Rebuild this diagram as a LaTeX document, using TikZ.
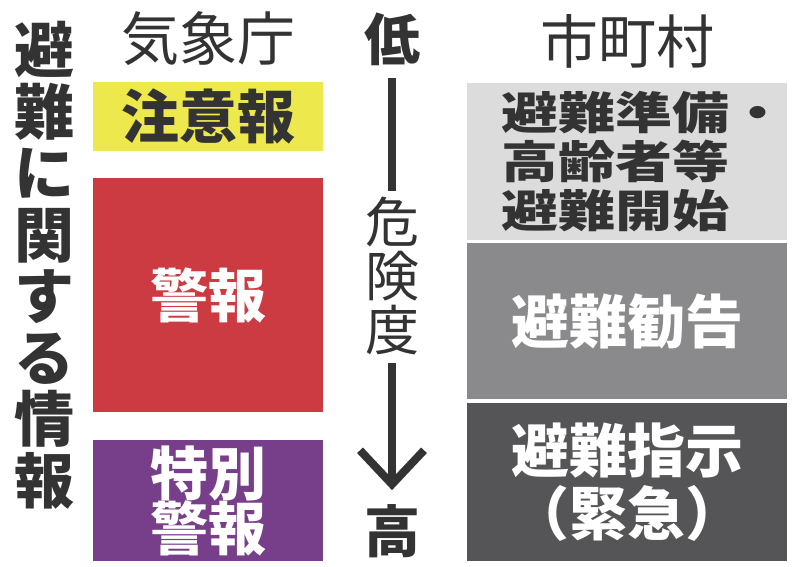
\documentclass[tikz,border=0pt]{standalone}
\usepackage{fontspec}
\usepackage{graphicx}
\newfontfamily\jp{Noto Sans CJK JP}
\usetikzlibrary{arrows.meta}

\definecolor{ink}{HTML}{333333}
\definecolor{chui}{HTML}{EDE84C}
\definecolor{keiho}{HTML}{CC3A42}
\definecolor{tokubetsu}{HTML}{773F8A}
\definecolor{junbi}{HTML}{DCDCDD}
\definecolor{kankoku}{HTML}{8A8A8C}
\definecolor{shiji}{HTML}{555557}

\newcommand{\tightlines}{\lineskiplimit=-100pt\relax}
\newcommand{\flatline}[1]{\hspace*{34pt}\scalebox{1}[0.78]{#1}}

\begin{document}
\begin{tikzpicture}[x=1pt, y=-1pt,
    lvl/.style={anchor=north west, inner sep=0, align=center,
      font={\jp\bfseries\fontsize{58}{55}\selectfont\tightlines}},
    head/.style={inner sep=0, text=ink, font={\jp\fontsize{58}{58}\selectfont}},
    ends/.style={inner sep=0, text=ink, font={\jp\bfseries\fontsize{56}{56}\selectfont}},
    shaft/.style={draw=ink, line width=8pt}
]
\useasboundingbox (0,0) rectangle (799,566);

% title on the left, stacked
\node[inner sep=0, align=center, text=ink,
  font={\jp\bfseries\fontsize{60}{61.5}\selectfont\tightlines}]
  (title) at (44,265) {避\\難\\に\\関\\す\\る\\情\\報};

% agency column
\node[head] (jma) at (208,39) {気象庁};
\node[lvl, fill=chui, text=ink, minimum width=230, minimum height=69] (chuiho) at (93,82) {注意報};
\node[lvl, fill=keiho, text=white, minimum width=230, minimum height=234] (keihoBox) at (93,178) {警報};
\node[lvl, fill=tokubetsu, text=white, minimum width=230, minimum height=121] (tokuBox) at (93,440) {特別\\警報};

% danger scale
\node[ends] (low) at (392,39) {低};
\node[inner sep=0, align=center, text=ink,
  font={\jp\fontsize{54}{54}\selectfont\tightlines}] (deg) at (392,276) {危\\険\\度};
\node[ends] (high) at (392,531) {高};
\draw[shaft, shorten <=12pt, shorten >=6pt] (low) -- (deg);
\draw[shaft, shorten <=8pt, shorten >=14pt,
  -{Straight Barb[length=34pt, width=64pt, line width=8pt]}] (deg) -- (high);

% municipality column
\node[head] (city) at (627,41) {市町村};
\node[lvl, fill=junbi, text=ink, minimum width=320, minimum height=157, align=left,
  font={\jp\bfseries\fontsize{57}{49}\selectfont\tightlines}] (junbiBox) at (467,83)
  {\flatline{避難準備・}\\\flatline{高齢者等}\\\flatline{避難開始}};
\node[lvl, fill=kankoku, text=white, minimum width=320, minimum height=156] (kankokuBox) at (467,243) {避難勧告};
\node[lvl, fill=shiji, text=white, minimum width=320, minimum height=158,
  font={\jp\bfseries\fontsize{58}{63}\selectfont\tightlines}] (shijiBox) at (467,403) {避難指示\\（緊急）};

\end{tikzpicture}
\end{document}
